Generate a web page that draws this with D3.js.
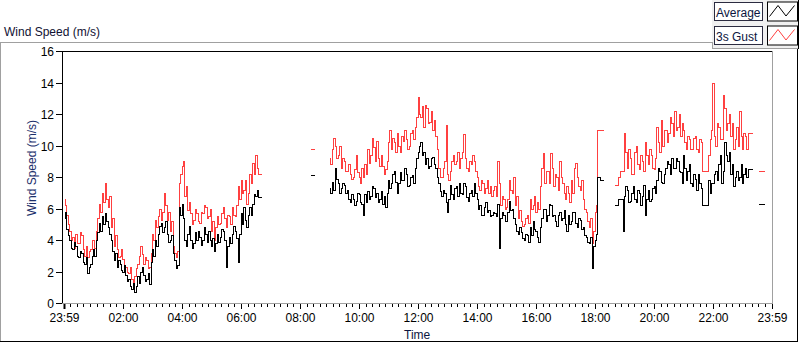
<!DOCTYPE html>
<html><head><meta charset="utf-8">
<script src="https://cdn.jsdelivr.net/npm/d3@7"></script>
<style>
body{margin:0;background:#fff;}
text{font-family:"Liberation Sans",Arial,sans-serif;font-size:12px;}
</style>
</head><body>
<svg id="c" width="800" height="342"></svg>
<script>
// ---- data ----
const stepMinutes = 3;   // sample interval, minutes
// start of each recorded block, minutes after 23:59
const segmentStarts = [0, 501, 540, 1119, 1413];
const xTickMinutes = [0,121,241,361,481,601,721,841,961,1081,1201,1321,1440];
const xTickLabels = ["23:59","02:00","04:00","06:00","08:00","10:00","12:00","14:00","16:00","18:00","20:00","22:00","23:59"];
const yTicks = [0,2,4,6,8,10,12,14,16];
const seriesNames = ["Average","3s Gust"];
const seriesColors = ["#000000","#ff4040"];

const averageA = [
5.4,5.8,4.7,4.3,4.0,3.5,3.4,3.9,3.6,3.0,2.9,3.3,3.2,2.6,2.5,2.9,1.9,2.3,2.5,3.0,
3.4,3.0,4.0,4.5,5.1,4.6,5.5,5.0,5.7,5.2,4.8,4.4,4.0,3.3,2.7,3.2,2.3,2.7,2.5,2.1,
2.0,2.4,1.8,1.4,1.5,1.1,0.9,1.3,0.7,1.1,1.7,1.3,2.0,2.3,1.8,1.4,1.5,1.9,1.2,2.6,
3.4,3.0,4.0,3.6,4.4,4.9,5.1,4.5,4.8,5.2,4.4,3.9,4.0,4.3,3.2,2.7,2.2,2.4,6.1,5.6,
6.3,5.4,4.0,3.6,4.4,4.9,4.0,3.5,3.8,4.5,4.0,4.6,4.2,3.7,4.0,4.8,4.4,3.9,4.6,4.0,
3.6,4.1,3.3,3.8,4.4,3.9,4.2,4.7,4.6,4.0,2.3,3.6,4.2,3.8,4.4,4.9,4.6,4.1,2.6,4.4,
5.7,5.0,6.1,5.3,4.8,5.6,6.1,5.6,6.3,6.9,6.8,7.2,6.7,6.7,6.7];
const averageB = [8.1,8.1,8.1,8.1];
const averageC = [
7.3,7.0,7.7,7.2,8.6,7.9,7.6,7.0,7.3,7.6,7.5,7.0,7.2,6.6,6.4,6.9,6.6,6.2,6.5,7.0,
6.9,6.4,6.3,5.6,6.9,6.4,7.1,6.6,6.8,7.4,7.3,6.7,7.0,6.4,6.6,7.1,6.3,6.8,6.1,7.0,
7.8,7.3,7.6,8.2,8.4,7.7,7.0,7.6,8.3,7.8,7.8,8.6,8.2,7.4,7.5,8.0,8.1,7.6,8.6,9.2,
9.6,10.0,10.2,9.4,9.6,8.8,9.2,8.6,8.7,9.2,9.3,8.8,8.6,8.0,7.6,7.1,6.8,7.2,7.0,6.4,
5.8,6.6,7.5,6.9,6.6,7.3,7.4,6.8,7.6,7.0,6.9,7.6,7.4,6.7,6.5,7.0,7.2,6.8,7.6,7.0,
6.6,6.0,6.2,5.6,5.6,6.1,6.4,5.8,5.9,5.5,5.6,5.8,5.7,5.5,6.3,3.5,5.4,5.8,5.6,5.2,
5.2,5.8,6.5,5.9,6.0,5.4,5.0,4.6,4.4,4.8,4.5,4.1,4.0,4.4,4.3,3.9,4.8,4.3,5.2,4.7,
4.6,4.2,3.9,4.8,5.4,6.0,6.0,5.2,5.6,6.3,6.2,5.5,5.6,5.2,4.9,5.6,5.8,5.3,5.4,5.9,
5.0,4.6,5.6,5.0,5.2,5.8,5.8,5.1,4.8,5.4,5.3,4.7,4.8,4.3,4.2,3.9,3.8,4.2,2.2,3.6,
4.0,4.4,8.0,8.0,7.8,7.8,7.8];
const averageD = [
6.2,
6.2,6.2,6.6,6.6,6.6,4.6,6.8,7.4,7.2,6.4,6.5,7.0,7.4,6.6,6.4,7.2,7.0,6.2,6.8,7.5,
5.6,6.6,7.2,6.5,6.6,7.3,7.4,7.0,7.8,8.6,8.4,7.7,7.6,8.2,8.6,9.0,8.8,8.2,9.2,8.6,
8.6,9.2,9.0,8.4,8.3,7.6,9.4,8.6,7.8,8.4,8.8,7.6,7.4,8.2,7.9,7.2,8.2,7.6,7.3,6.2,
6.2,6.2,6.2,7.8,7.0,7.6,7.6,8.2,8.4,7.8,8.8,9.4,7.6,8.4,10.2,9.4,9.0,9.6,8.2,8.8,
7.4,8.0,8.4,7.8,8.0,8.8,7.6,8.2,8.6,8.0,8.5,8.5,8.5,8.5];
const averageE = [6.3,6.3,6.3,6.3,6.3];

const gustA = [
6.6,6.2,5.6,5.0,4.6,4.0,4.2,3.5,4.4,3.8,3.8,4.5,4.3,3.4,3.0,3.6,2.9,3.3,3.4,4.0,
4.0,3.5,4.6,5.4,6.3,5.8,7.0,6.4,7.6,6.6,6.1,6.8,4.8,5.4,3.6,4.3,3.4,2.9,3.0,3.4,
2.8,2.4,2.3,2.0,1.9,2.3,1.5,1.1,1.7,2.2,2.5,3.0,3.6,3.1,2.5,2.9,2.7,2.2,2.3,3.2,
4.4,4.0,5.3,4.8,5.5,6.0,5.3,5.8,7.0,6.2,5.3,5.8,4.6,5.2,3.6,3.2,2.9,3.3,7.6,8.2,
8.7,9.0,6.8,7.4,5.9,6.4,5.7,5.0,5.3,6.0,5.7,5.2,5.1,5.8,5.7,6.2,6.1,5.4,5.5,6.0,
4.6,5.2,4.0,4.8,5.5,5.0,5.1,5.7,6.1,5.4,4.8,5.6,5.5,5.0,6.1,5.6,5.5,6.2,7.4,6.6,
7.8,7.0,7.2,7.8,6.3,7.0,8.2,7.6,8.9,8.2,9.4,8.6,8.2,8.2,8.2];
const gustB = [9.8,9.8,9.8,9.8];
const gustC = [
9.2,8.8,9.8,10.5,10.0,9.2,9.4,10.0,8.6,9.2,9.0,8.4,8.4,8.8,8.2,7.9,8.0,8.5,9.4,8.3,
8.0,7.6,8.6,8.0,8.8,8.2,9.8,8.9,9.4,10.5,9.9,9.0,10.3,9.2,8.7,9.4,8.7,8.2,8.5,9.0,
10.2,11.0,9.8,10.5,10.2,9.6,10.8,10.0,9.6,10.6,10.3,11.0,10.4,9.8,10.0,10.8,11.0,10.4,11.2,11.8,
13.1,12.0,11.8,12.5,11.2,12.6,12.4,11.4,11.5,12.2,11.0,11.6,10.6,9.8,8.6,8.0,8.0,8.6,9.0,11.3,
8.2,7.8,8.4,9.0,9.4,8.8,9.0,9.6,8.6,9.2,9.6,10.7,9.2,8.6,8.4,9.0,8.8,9.4,9.0,8.4,
8.0,7.4,7.2,7.8,7.6,7.0,7.3,7.8,7.0,7.4,6.8,7.2,7.4,6.8,9.0,7.6,6.2,6.8,6.6,6.0,
6.1,6.6,7.8,7.2,7.0,8.0,6.2,6.8,5.4,5.9,5.2,4.9,5.0,5.4,5.6,5.1,6.6,6.0,6.2,6.8,
5.8,6.4,6.0,7.4,8.6,9.5,7.6,8.4,8.4,7.6,9.5,8.6,7.4,8.2,8.0,7.2,9.0,8.0,7.6,7.0,
6.6,7.4,7.0,6.4,7.8,7.0,8.6,8.9,8.0,7.4,7.2,7.8,6.6,6.0,5.8,5.2,4.8,5.4,3.8,4.6,
5.8,6.2,11.0,11.0,11.0,11.0,11.0];
const gustD = [
7.5,
7.5,7.5,8.0,8.4,8.4,8.4,10.8,9.6,8.6,9.8,9.2,8.2,8.2,9.6,10.0,8.8,8.5,9.4,9.0,8.4,
10.2,9.4,8.8,9.8,9.4,8.6,8.5,9.2,11.2,10.2,9.6,11.6,10.0,11.0,11.0,10.2,10.8,11.8,11.4,10.6,
12.2,11.0,11.2,12.0,10.6,11.4,11.0,10.2,9.8,10.6,10.4,9.8,9.8,10.5,10.6,9.8,9.6,10.4,10.2,8.4,
8.4,8.4,8.4,9.4,10.4,11.0,14.0,10.6,10.0,11.4,11.2,10.4,10.4,13.2,12.4,11.0,11.4,12.0,10.6,11.4,
9.8,10.4,11.2,10.0,12.2,10.6,9.8,10.8,10.6,9.8,10.8,10.8,10.8,10.8];
const gustE = [8.4,8.4,8.4,8.4,8.4];

const averageSegments = [averageA, averageB, averageC, averageD, averageE];
const gustSegments = [gustA, gustB, gustC, gustD, gustE];

// ---- drawing ----
const svg = d3.select("#c");
const W = 800, H = 342;
const plot = {l:62, t:51, r:772, b:303};

const x = d3.scaleLinear().domain([0,1440]).range([63.5, 771.5]);
const y = d3.scaleLinear().domain([0,16]).range([plot.b, plot.t]);

svg.append("rect").attr("x",0).attr("y",0).attr("width",W).attr("height",H).attr("fill","#fff");
const gray = "#a0a0a0";
function hline(x1,x2,yy,c){svg.append("line").attr("x1",x1).attr("x2",x2).attr("y1",yy).attr("y2",yy).attr("stroke",c).attr("stroke-width",1);}
function vline(xx,y1,y2,c){svg.append("line").attr("x1",xx).attr("x2",xx).attr("y1",y1).attr("y2",y2).attr("stroke",c).attr("stroke-width",1);}

// outer panel frame
hline(0,712,42.5,gray);
vline(0.5,42,342,gray);
hline(0,798,341.5,"#000");
vline(797.5,48,342,"#000");

// title
svg.append("text").attr("x",4).attr("y",36).attr("fill","#111133").text("Wind Speed (m/s)");

// legend panel
svg.append("rect").attr("x",712).attr("y",0).attr("width",87).attr("height",48).attr("fill","#f0f0f0");
hline(712,799,48.5,gray);
vline(712.5,42,49,gray);
vline(798.5,0,49,"#000");

const legY = [2.5, 26.5];
seriesNames.forEach((nm,i)=>{
  const yy = legY[i];
  svg.append("rect").attr("x",714.5).attr("y",yy).attr("width",48).attr("height",18)
     .attr("fill","#fff").attr("stroke","#2b2b40");
  svg.append("text").attr("x",716).attr("y",yy+14).attr("fill","#0b1540").text(nm);
  svg.append("rect").attr("x",767.5).attr("y",yy-0.5).attr("width",30).attr("height",19)
     .attr("fill","#fff").attr("stroke","#000");
  const zz = [[769.5,yy+14],[778,yy+3],[786,yy+13.5],[794.5,yy+3]];
  svg.append("path").attr("d",d3.line()(zz)).attr("fill","none").attr("stroke",seriesColors[i]).attr("stroke-width",1);
});

// plot area
svg.append("rect").attr("x",plot.l).attr("y",plot.t).attr("width",plot.r-plot.l).attr("height",plot.b-plot.t).attr("fill","#fff");
svg.append("clipPath").attr("id","clip").append("rect")
  .attr("x",plot.l+1).attr("y",plot.t+1).attr("width",plot.r-plot.l-1).attr("height",plot.b-plot.t-1);

function toPts(segs){
  const pts = [];
  segs.forEach((seg,k)=>{
    seg.forEach((v,i)=>pts.push({t:segmentStarts[k]+i*stepMinutes, v:v}));
    pts.push({t:null, v:null}); // break between blocks
  });
  return pts;
}
const line = d3.line().defined(d=>d.v!=null)
  .x(d=>Math.round(x(d.t))+0.5).y(d=>Math.round(y(d.v))+0.5)
  .curve(d3.curveStepAfter);

const gData = svg.append("g").attr("clip-path","url(#clip)");
gData.append("path").attr("d",line(toPts(gustSegments))).attr("fill","none")
  .attr("stroke",seriesColors[1]).attr("stroke-width",1).attr("shape-rendering","crispEdges");
gData.append("path").attr("d",line(toPts(averageSegments))).attr("fill","none")
  .attr("stroke",seriesColors[0]).attr("stroke-width",1).attr("shape-rendering","crispEdges");

hline(plot.l,plot.r+1,plot.t+0.5,"#000");
vline(plot.l+0.5,plot.t,plot.b+1,"#000");
hline(plot.l,plot.r+1,plot.b+0.5,gray);
vline(plot.r+0.5,plot.t,plot.b+1,gray);

// y axis
const yAxis = svg.append("g");
yTicks.forEach(v=>{
  const yy = Math.round(y(v))+0.5;
  yAxis.append("line").attr("x1",56).attr("x2",62).attr("y1",yy).attr("y2",yy).attr("stroke","#000");
  yAxis.append("text").attr("x",54).attr("y",yy).attr("dy","0.35em").attr("text-anchor","end").attr("fill","#000").text(v);
});
svg.append("text").attr("transform","translate(36,168) rotate(-90)").attr("text-anchor","middle")
  .attr("fill","#1b2f6b").text("Wind Speed (m/s)");

// x axis
const xAxis = svg.append("g");
for(let k=0;k<xTickMinutes.length-1;k++){
  const a = xTickMinutes[k], b = xTickMinutes[k+1];
  for(let m=1;m<9;m++){
    const xx = Math.round(x(a+(b-a)*m/9))+0.5;
    xAxis.append("line").attr("x1",xx).attr("x2",xx).attr("y1",304).attr("y2",307).attr("stroke","#000");
  }
}
xTickMinutes.forEach((t,i)=>{
  const xx = Math.round(x(t))+0.5;
  xAxis.append("line").attr("x1",xx).attr("x2",xx).attr("y1",304).attr("y2",309).attr("stroke","#000").attr("stroke-width", i===0?2:1);
  xAxis.append("text").attr("x",xx).attr("y",322).attr("text-anchor","middle").attr("fill","#000").text(xTickLabels[i]);
});
svg.append("text").attr("x",404).attr("y",339).attr("fill","#0b1540").text("Time");
</script>
</body></html>
